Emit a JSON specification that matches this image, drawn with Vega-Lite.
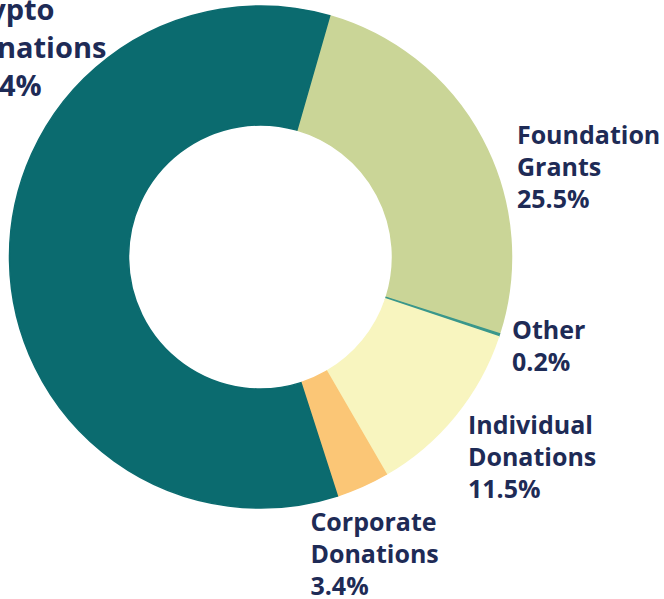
{
  "$schema": "https://vega.github.io/schema/vega-lite/v6.json",
  "width": 521,
  "height": 514,
  "autosize": "none",
  "padding": {"left": 0, "top": 0, "right": 143, "bottom": 85},
  "background": "white",
  "view": {"stroke": null},
  "data": {
    "values": [
      {"category": "Foundation Grants", "value": 25.5, "order": 1, "label": "Foundation\nGrants\n25.5%"},
      {"category": "Other", "value": 0.2, "order": 2, "label": "Other\n0.2%"},
      {"category": "Individual Donations", "value": 11.5, "order": 3, "label": "Individual\nDonations\n11.5%"},
      {"category": "Corporate Donations", "value": 3.4, "order": 4, "label": "Corporate\nDonations\n3.4%"},
      {"category": "Crypto Donations", "value": 59.4, "order": 5, "label": "Crypto\nDonations\n59.4%"}
    ]
  },
  "encoding": {
    "theta": {"field": "value", "type": "quantitative", "stack": true, "scale": {"range": [0.2793, 6.5625]}},
    "order": {"field": "order", "type": "quantitative", "sort": "ascending"}
  },
  "layer": [
    {
      "mark": {"type": "arc", "innerRadius": 132, "outerRadius": 251, "strokeWidth": 1.5},
      "encoding": {
        "color": {
          "field": "category",
          "type": "nominal",
          "scale": {
            "domain": ["Foundation Grants", "Other", "Individual Donations", "Corporate Donations", "Crypto Donations"],
            "range": ["#cad597", "#3a978b", "#f8f5bf", "#fbc676", "#0b6b6f"]
          },
          "legend": null
        },
        "stroke": {
          "field": "category",
          "type": "nominal",
          "scale": {
            "domain": ["Foundation Grants", "Other", "Individual Donations", "Corporate Donations", "Crypto Donations"],
            "range": ["#cad597", "#3a978b", "#f8f5bf", "#fbc676", "#0b6b6f"]
          },
          "legend": null
        }
      }
    },
    {
      "mark": {
        "type": "text",
        "radius": 251,
        "align": "left",
        "baseline": "middle",
        "lineBreak": "\n",
        "font": "Open Sans",
        "fontWeight": "bold",
        "fill": "#1e2b56",
        "fontSize": {"expr": "datum.category == 'Crypto Donations' ? 29 : 25"},
        "lineHeight": {"expr": "datum.category == 'Crypto Donations' ? 38 : 32"},
        "dx": {"expr": "datum.category == 'Foundation Grants' ? 35 : datum.category == 'Other' ? 13 : datum.category == 'Individual Donations' ? 13 : datum.category == 'Corporate Donations' ? -52 : -52"},
        "dy": {"expr": "datum.category == 'Foundation Grants' ? -3 : datum.category == 'Other' ? -4 : datum.category == 'Individual Donations' ? 10 : datum.category == 'Corporate Donations' ? 37 : -250"}
      },
      "encoding": {
        "text": {"field": "label", "type": "nominal"}
      }
    }
  ]
}
